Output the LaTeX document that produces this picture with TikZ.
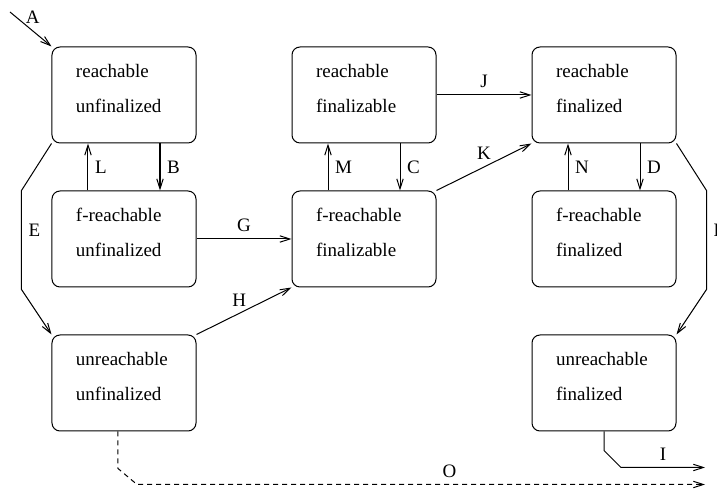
\documentclass[tikz,border=0pt]{standalone}
\usepackage{fontspec}
\setmainfont{Liberation Serif}
\usetikzlibrary{arrows.meta}

\begin{document}
\begin{tikzpicture}[
x=0.5pt, y=0.5pt,
node distance=72pt,
every node/.style={font=\fontsize{9.5}{17.5}\selectfont},
arrow/.style={-{Straight Barb[length=5pt,width=3.2pt]}, line width=0.5pt}
]

\useasboundingbox (-124,95) rectangle (593,-395);

% =====================================================
% Styles
% =====================================================

\tikzstyle{state} =
[rectangle, rounded corners=4pt,
draw, line width=0.5pt,
minimum width=72pt, minimum height=48pt,
text width=48pt, inner xsep=12pt,
align=left, text depth=24.5pt]

\tikzstyle{dashedarrow} =
[arrow, dash pattern=on 2.5pt off 2pt]

% =====================================================
% Nodes
% =====================================================

\node (ru) [state]
{reachable\\unfinalized};

\node (rf) [state, node distance=120pt, right of=ru]
{reachable\\finalizable};

\node (rd) [state, node distance=120pt, right of=rf]
{reachable\\finalized};

\node (fru) [state, below of=ru]
{f-reachable\\unfinalized};

\node (frf) [state, below of=rf]
{f-reachable\\finalizable};

\node (frd) [state, below of=rd]
{f-reachable\\finalized};

\node (uu) [state, below of=fru]
{unreachable\\unfinalized};

\node (ud) [state, below of=frd]
{unreachable\\finalized};

\coordinate (start) at (-114,83);

% =====================================================
% Arrows
% =====================================================

\draw [arrow] (start) -- (ru.north west) node [pos=0.55, above] {A};

\draw [arrow] ([xshift=-18pt]fru.north) -- ([xshift=-18pt]ru.south) node [midway, right] {L};

\draw [arrow] ([xshift=18pt]ru.south) -- ([xshift=18pt]fru.north) node [midway, right] {B};

\draw [arrow] ([xshift=-18pt]frf.north) -- ([xshift=-18pt]rf.south) node [midway, right] {M};

\draw [arrow] ([xshift=18pt]rf.south) -- ([xshift=18pt]frf.north) node [midway, right] {C};

\draw [arrow] ([xshift=-18pt]frd.north) -- ([xshift=-18pt]rd.south) node [midway, right] {N};

\draw [arrow] ([xshift=18pt]rd.south) -- ([xshift=18pt]frd.north) node [midway, right] {D};

\draw [arrow] (fru.east) -- (frf.west) node [midway, above] {G};

\draw [arrow] (rf.east) -- (rd.west) node [midway, above] {J};

\draw [arrow] (uu.north east) -- (frf.south west) node [pos=0.45, above] {H};

\draw [arrow] (frf.north east) -- (rd.south west) node [midway, above] {K};

\draw [arrow] (ru.south west) -- ++(-30,-47) -- ++(0,-99) node [pos=0.4, right] {E} -- (uu.north west);

\draw [arrow] (rd.south east) -- ++(30,-47) -- ++(0,-99) node [pos=0.4, right] {F} -- (ud.north east);

\draw [arrow] (ud.south) -- ++(0,-19) -- ++(17,-17) -- ++(84,0) node [midway, above] {I};

\draw [dashedarrow] ([xshift=-3pt]uu.south) -- ++(0,-37) -- ++(19,-16) -- ++(568,0) node [pos=0.55, above] {O};

\end{tikzpicture}
\end{document}
